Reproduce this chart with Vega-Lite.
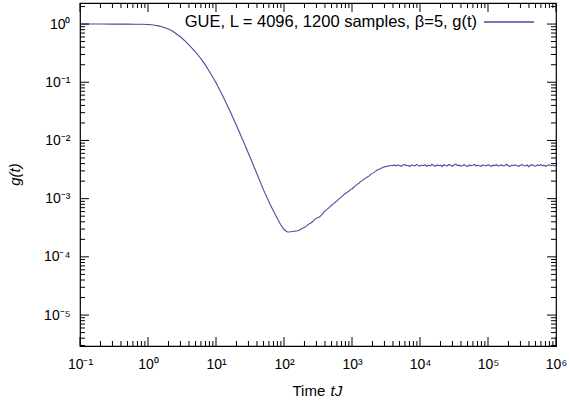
{
  "$schema": "https://vega.github.io/schema/vega-lite/v6.json",
  "width": 476,
  "height": 343,
  "autosize": {"type": "none"},
  "padding": {"left": 80, "top": 3, "right": 14, "bottom": 55},
  "background": "white",
  "config": {
    "font": "Liberation Sans",
    "view": {"stroke": "black", "strokeWidth": 1.2},
    "axis": {"grid": false, "domain": false, "ticks": false, "labelColor": "black", "labelFont": "Liberation Sans", "labelFontSize": 14, "titleFont": "Liberation Sans", "titleFontSize": 15, "titleFontWeight": "normal", "titleColor": "black", "labelFlush": false, "labelOverlap": false, "labelBound": false}
  },
  "datasets": {
    "xticks": [
      {"v": 0.1, "k": "major"}, {"v": 1, "k": "major"}, {"v": 10, "k": "major"}, {"v": 100, "k": "major"}, {"v": 1000, "k": "major"}, {"v": 10000, "k": "major"}, {"v": 100000, "k": "major"}, {"v": 1000000, "k": "major"},
      {"v": 0.2, "k": "minor"}, {"v": 0.3, "k": "minor"}, {"v": 0.4, "k": "minor"}, {"v": 0.5, "k": "minor"}, {"v": 0.6, "k": "minor"}, {"v": 0.7, "k": "minor"}, {"v": 0.8, "k": "minor"}, {"v": 0.9, "k": "minor"},
      {"v": 2, "k": "minor"}, {"v": 3, "k": "minor"}, {"v": 4, "k": "minor"}, {"v": 5, "k": "minor"}, {"v": 6, "k": "minor"}, {"v": 7, "k": "minor"}, {"v": 8, "k": "minor"}, {"v": 9, "k": "minor"},
      {"v": 20, "k": "minor"}, {"v": 30, "k": "minor"}, {"v": 40, "k": "minor"}, {"v": 50, "k": "minor"}, {"v": 60, "k": "minor"}, {"v": 70, "k": "minor"}, {"v": 80, "k": "minor"}, {"v": 90, "k": "minor"},
      {"v": 200, "k": "minor"}, {"v": 300, "k": "minor"}, {"v": 400, "k": "minor"}, {"v": 500, "k": "minor"}, {"v": 600, "k": "minor"}, {"v": 700, "k": "minor"}, {"v": 800, "k": "minor"}, {"v": 900, "k": "minor"},
      {"v": 2000, "k": "minor"}, {"v": 3000, "k": "minor"}, {"v": 4000, "k": "minor"}, {"v": 5000, "k": "minor"}, {"v": 6000, "k": "minor"}, {"v": 7000, "k": "minor"}, {"v": 8000, "k": "minor"}, {"v": 9000, "k": "minor"},
      {"v": 20000, "k": "minor"}, {"v": 30000, "k": "minor"}, {"v": 40000, "k": "minor"}, {"v": 50000, "k": "minor"}, {"v": 60000, "k": "minor"}, {"v": 70000, "k": "minor"}, {"v": 80000, "k": "minor"}, {"v": 90000, "k": "minor"},
      {"v": 200000, "k": "minor"}, {"v": 300000, "k": "minor"}, {"v": 400000, "k": "minor"}, {"v": 500000, "k": "minor"}, {"v": 600000, "k": "minor"}, {"v": 700000, "k": "minor"}, {"v": 800000, "k": "minor"}, {"v": 900000, "k": "minor"}
    ],
    "yticks": [
      {"v": 0.00001, "k": "major"}, {"v": 0.0001, "k": "major"}, {"v": 0.001, "k": "major"}, {"v": 0.01, "k": "major"}, {"v": 0.1, "k": "major"}, {"v": 1, "k": "major"},
      {"v": 0.000003, "k": "minor"}, {"v": 0.000004, "k": "minor"}, {"v": 0.000005, "k": "minor"}, {"v": 0.000006, "k": "minor"}, {"v": 0.000007, "k": "minor"}, {"v": 0.000008, "k": "minor"}, {"v": 0.000009, "k": "minor"},
      {"v": 0.00002, "k": "minor"}, {"v": 0.00003, "k": "minor"}, {"v": 0.00004, "k": "minor"}, {"v": 0.00005, "k": "minor"}, {"v": 0.00006, "k": "minor"}, {"v": 0.00007, "k": "minor"}, {"v": 0.00008, "k": "minor"}, {"v": 0.00009, "k": "minor"},
      {"v": 0.0002, "k": "minor"}, {"v": 0.0003, "k": "minor"}, {"v": 0.0004, "k": "minor"}, {"v": 0.0005, "k": "minor"}, {"v": 0.0006, "k": "minor"}, {"v": 0.0007, "k": "minor"}, {"v": 0.0008, "k": "minor"}, {"v": 0.0009, "k": "minor"},
      {"v": 0.002, "k": "minor"}, {"v": 0.003, "k": "minor"}, {"v": 0.004, "k": "minor"}, {"v": 0.005, "k": "minor"}, {"v": 0.006, "k": "minor"}, {"v": 0.007, "k": "minor"}, {"v": 0.008, "k": "minor"}, {"v": 0.009, "k": "minor"},
      {"v": 0.02, "k": "minor"}, {"v": 0.03, "k": "minor"}, {"v": 0.04, "k": "minor"}, {"v": 0.05, "k": "minor"}, {"v": 0.06, "k": "minor"}, {"v": 0.07, "k": "minor"}, {"v": 0.08, "k": "minor"}, {"v": 0.09, "k": "minor"},
      {"v": 0.2, "k": "minor"}, {"v": 0.3, "k": "minor"}, {"v": 0.4, "k": "minor"}, {"v": 0.5, "k": "minor"}, {"v": 0.6, "k": "minor"}, {"v": 0.7, "k": "minor"}, {"v": 0.8, "k": "minor"}, {"v": 0.9, "k": "minor"}, {"v": 2, "k": "minor"}
    ],
    "curve": [
      {"t": 0.1, "g": 1.0}, {"t": 0.2, "g": 1.0}, {"t": 0.316, "g": 0.999}, {"t": 0.5, "g": 0.997}, {"t": 0.631, "g": 0.995}, {"t": 0.8, "g": 0.99},
      {"t": 1.0, "g": 0.98}, {"t": 1.122, "g": 0.97}, {"t": 1.259, "g": 0.955}, {"t": 1.413, "g": 0.93}, {"t": 1.585, "g": 0.9}, {"t": 1.778, "g": 0.862},
      {"t": 1.995, "g": 0.82}, {"t": 2.239, "g": 0.765}, {"t": 2.512, "g": 0.7}, {"t": 2.818, "g": 0.635}, {"t": 3.162, "g": 0.57}, {"t": 3.548, "g": 0.505},
      {"t": 3.981, "g": 0.44}, {"t": 4.467, "g": 0.383}, {"t": 5.012, "g": 0.33}, {"t": 5.623, "g": 0.28}, {"t": 6.31, "g": 0.235}, {"t": 7.079, "g": 0.193},
      {"t": 7.943, "g": 0.155}, {"t": 8.913, "g": 0.124}, {"t": 10, "g": 0.098}, {"t": 12.59, "g": 0.058}, {"t": 15.85, "g": 0.033}, {"t": 19.95, "g": 0.0182},
      {"t": 25.12, "g": 0.0098}, {"t": 31.62, "g": 0.0052}, {"t": 39.81, "g": 0.0027}, {"t": 50.12, "g": 0.0014}, {"t": 63.1, "g": 0.00078}, {"t": 79.43, "g": 0.00046},
      {"t": 89.1, "g": 0.00036}, {"t": 100, "g": 0.000295}, {"t": 112.2, "g": 0.000268}, {"t": 125.9, "g": 0.00027}, {"t": 141.3, "g": 0.000275},
      {"t": 158.5, "g": 0.00028}, {"t": 167.9, "g": 0.000287}, {"t": 177.8, "g": 0.0003}, {"t": 188.4, "g": 0.000312}, {"t": 199.5, "g": 0.00032},
      {"t": 211.3, "g": 0.000334}, {"t": 223.9, "g": 0.000355}, {"t": 237.1, "g": 0.000372}, {"t": 251.2, "g": 0.000385}, {"t": 266.1, "g": 0.000405},
      {"t": 281.8, "g": 0.00044}, {"t": 298.5, "g": 0.000462}, {"t": 316.2, "g": 0.00047}, {"t": 335, "g": 0.000488}, {"t": 354.8, "g": 0.00052},
      {"t": 375.8, "g": 0.000565}, {"t": 398.1, "g": 0.00061}, {"t": 421.7, "g": 0.000642}, {"t": 446.7, "g": 0.00068}, {"t": 473.2, "g": 0.000722},
      {"t": 501.2, "g": 0.00077}, {"t": 530.9, "g": 0.000815}, {"t": 562.3, "g": 0.00086}, {"t": 595.7, "g": 0.000905}, {"t": 631, "g": 0.00097},
      {"t": 668.3, "g": 0.00102}, {"t": 707.9, "g": 0.00108}, {"t": 749.9, "g": 0.00115}, {"t": 794.3, "g": 0.00123}, {"t": 841.4, "g": 0.00127},
      {"t": 891.3, "g": 0.00134}, {"t": 944.1, "g": 0.00143}, {"t": 1000, "g": 0.00147}, {"t": 1059, "g": 0.00157}, {"t": 1122, "g": 0.00166},
      {"t": 1189, "g": 0.00176}, {"t": 1259, "g": 0.00184}, {"t": 1334, "g": 0.00196}, {"t": 1413, "g": 0.00204}, {"t": 1496, "g": 0.00216},
      {"t": 1585, "g": 0.00225}, {"t": 1679, "g": 0.00235}, {"t": 1778, "g": 0.00244}, {"t": 1884, "g": 0.00261}, {"t": 1995, "g": 0.00272},
      {"t": 2113, "g": 0.00283}, {"t": 2239, "g": 0.00297}, {"t": 2371, "g": 0.00314}, {"t": 2512, "g": 0.0032}, {"t": 2661, "g": 0.0033},
      {"t": 2818, "g": 0.00342}, {"t": 2985, "g": 0.00352}, {"t": 3162, "g": 0.00358}, {"t": 3350, "g": 0.00362}, {"t": 3548, "g": 0.00368},
      {"t": 3758, "g": 0.00371}, {"t": 3981, "g": 0.00372},
      {"t": 4217, "g": 0.00376}, {"t": 4467, "g": 0.00366}, {"t": 4732, "g": 0.00382}, {"t": 5012, "g": 0.0037}, {"t": 5309, "g": 0.0036},
      {"t": 5623, "g": 0.00378}, {"t": 5957, "g": 0.00386}, {"t": 6310, "g": 0.00368}, {"t": 6683, "g": 0.00374}, {"t": 7079, "g": 0.00356},
      {"t": 7499, "g": 0.0038}, {"t": 7943, "g": 0.00372}, {"t": 8414, "g": 0.00364}, {"t": 8913, "g": 0.00388}, {"t": 9441, "g": 0.0037},
      {"t": 10000, "g": 0.00362}, {"t": 10600, "g": 0.00378}, {"t": 11200, "g": 0.00368}, {"t": 11900, "g": 0.00384}, {"t": 12600, "g": 0.00358},
      {"t": 13300, "g": 0.00374}, {"t": 14100, "g": 0.00366}, {"t": 15000, "g": 0.0039}, {"t": 15800, "g": 0.00372}, {"t": 16800, "g": 0.0036},
      {"t": 17800, "g": 0.0038}, {"t": 18800, "g": 0.00368}, {"t": 20000, "g": 0.00376}, {"t": 21100, "g": 0.00354}, {"t": 22400, "g": 0.00382},
      {"t": 23700, "g": 0.0037}, {"t": 25100, "g": 0.00364}, {"t": 26600, "g": 0.00386}, {"t": 28200, "g": 0.00374}, {"t": 29900, "g": 0.0036},
      {"t": 31600, "g": 0.00378}, {"t": 33500, "g": 0.00392}, {"t": 35500, "g": 0.00368}, {"t": 37600, "g": 0.00376}, {"t": 39800, "g": 0.00362},
      {"t": 42200, "g": 0.00372}, {"t": 44700, "g": 0.00384}, {"t": 47300, "g": 0.00366}, {"t": 50100, "g": 0.00356}, {"t": 53100, "g": 0.0038},
      {"t": 56200, "g": 0.0037}, {"t": 59600, "g": 0.00374}, {"t": 63100, "g": 0.00388}, {"t": 66800, "g": 0.00364}, {"t": 70800, "g": 0.00378},
      {"t": 75000, "g": 0.00368}, {"t": 79400, "g": 0.0036}, {"t": 84100, "g": 0.00382}, {"t": 89100, "g": 0.00372}, {"t": 94400, "g": 0.00366},
      {"t": 100000, "g": 0.00384}, {"t": 106000, "g": 0.0037}, {"t": 112000, "g": 0.00358}, {"t": 119000, "g": 0.00376}, {"t": 126000, "g": 0.00368},
      {"t": 133000, "g": 0.00386}, {"t": 141000, "g": 0.00362}, {"t": 150000, "g": 0.00374}, {"t": 158000, "g": 0.0038}, {"t": 168000, "g": 0.00364},
      {"t": 178000, "g": 0.00372}, {"t": 188000, "g": 0.0039}, {"t": 200000, "g": 0.00366}, {"t": 211000, "g": 0.00356}, {"t": 224000, "g": 0.00378},
      {"t": 237000, "g": 0.0037}, {"t": 251000, "g": 0.00382}, {"t": 266000, "g": 0.00368}, {"t": 282000, "g": 0.0036}, {"t": 299000, "g": 0.00376},
      {"t": 316000, "g": 0.00386}, {"t": 335000, "g": 0.00372}, {"t": 355000, "g": 0.00364}, {"t": 376000, "g": 0.00378}, {"t": 398000, "g": 0.00354},
      {"t": 422000, "g": 0.00374}, {"t": 447000, "g": 0.00384}, {"t": 473000, "g": 0.00368}, {"t": 501000, "g": 0.00362}, {"t": 531000, "g": 0.0038},
      {"t": 562000, "g": 0.0037}, {"t": 596000, "g": 0.00388}, {"t": 631000, "g": 0.00366}, {"t": 668000, "g": 0.00376}, {"t": 708000, "g": 0.0036},
      {"t": 750000, "g": 0.00372}, {"t": 794000, "g": 0.00382}, {"t": 841000, "g": 0.00368}, {"t": 891000, "g": 0.00378}, {"t": 944000, "g": 0.00364},
      {"t": 1000000, "g": 0.00374}
    ]
  },
  "layer": [
    {
      "data": {"name": "curve"},
      "mark": {"type": "line", "strokeWidth": 1.1, "clip": true},
      "encoding": {
        "x": {
          "field": "t", "type": "quantitative",
          "scale": {"type": "log", "domain": [0.1, 1000000], "nice": false},
          "axis": {
            "orient": "bottom",
            "values": [0.1, 1, 10, 100, 1000, 10000, 100000, 1000000],
            "labelExpr": "'10' + ['⁻¹','⁰','¹','²','³','⁴','⁵','⁶'][round(log(datum.value)/LN10)+1]",
            "labelPadding": 11,
            "title": "Time",
            "titleX": 212, "titleY": 49, "titleAlign": "left", "titleBaseline": "alphabetic", "titleAnchor": null
          }
        },
        "y": {
          "field": "g", "type": "quantitative",
          "scale": {"type": "log", "domain": [0.00000294, 2.3], "nice": false},
          "axis": {
            "orient": "left",
            "values": [0.00001, 0.0001, 0.001, 0.01, 0.1, 1],
            "labelExpr": "'10' + ['⁻⁵','⁻⁴','⁻³','⁻²','⁻¹','⁰'][round(log(datum.value)/LN10)+5]",
            "labelPadding": 10,
            "title": "g(t)",
            "titleFontStyle": "italic",
            "titleAngle": -90, "titleX": -61, "titleY": 171, "titleAlign": "center", "titleBaseline": "alphabetic", "titleAnchor": null
          }
        },
        "color": {
          "datum": "GUE, L = 4096, 1200 samples, β=5, g(t)",
          "type": "nominal",
          "scale": {"range": ["#4a4a9e"]},
          "legend": {
            "orient": "none", "legendX": 403, "legendY": -7, "padding": 0,
            "title": null, "symbolType": "stroke", "symbolSize": 2500, "symbolStrokeWidth": 1.5,
            "symbolStrokeColor": "#8c8cc0",
            "labelAlign": "right", "labelOffset": -58, "labelFont": "Liberation Sans", "labelFontSize": 16.5, "labelColor": "black", "labelLimit": 0
          }
        }
      }
    },
    {
      "data": {"name": "curve"},
      "mark": {"type": "line", "opacity": 0},
      "encoding": {
        "x": {
          "field": "t", "type": "quantitative",
          "axis": {
            "orient": "top", "labels": false,
            "title": "tJ", "titleFontStyle": "italic",
            "titleX": 250, "titleY": 392, "titleAlign": "left", "titleBaseline": "alphabetic", "titleAnchor": null
          }
        },
        "y": {"field": "g", "type": "quantitative", "axis": null}
      }
    },
    {
      "data": {"name": "xticks"},
      "mark": {"type": "point", "shape": "M0,0V-1", "filled": false, "stroke": "black", "strokeWidth": 1, "opacity": 1},
      "encoding": {
        "x": {"field": "v", "type": "quantitative", "axis": null},
        "y": {"datum": 0.00000294, "type": "quantitative", "axis": null},
        "size": {"field": "k", "type": "nominal", "scale": {"domain": ["major", "minor"], "range": [324, 100]}, "legend": null}
      }
    },
    {
      "data": {"name": "xticks"},
      "mark": {"type": "point", "shape": "M0,0V1", "filled": false, "stroke": "black", "strokeWidth": 1, "opacity": 1},
      "encoding": {
        "x": {"field": "v", "type": "quantitative", "axis": null},
        "y": {"datum": 2.3, "type": "quantitative", "axis": null},
        "size": {"field": "k", "type": "nominal", "scale": {"domain": ["major", "minor"], "range": [324, 100]}, "legend": null}
      }
    },
    {
      "data": {"name": "yticks"},
      "mark": {"type": "point", "shape": "M0,0H1", "filled": false, "stroke": "black", "strokeWidth": 1, "opacity": 1},
      "encoding": {
        "y": {"field": "v", "type": "quantitative", "axis": null},
        "x": {"datum": 0.1, "type": "quantitative", "axis": null},
        "size": {"field": "k", "type": "nominal", "scale": {"domain": ["major", "minor"], "range": [324, 100]}, "legend": null}
      }
    },
    {
      "data": {"name": "yticks"},
      "mark": {"type": "point", "shape": "M0,0H-1", "filled": false, "stroke": "black", "strokeWidth": 1, "opacity": 1},
      "encoding": {
        "y": {"field": "v", "type": "quantitative", "axis": null},
        "x": {"datum": 1000000, "type": "quantitative", "axis": null},
        "size": {"field": "k", "type": "nominal", "scale": {"domain": ["major", "minor"], "range": [324, 100]}, "legend": null}
      }
    }
  ],
  "resolve": {"axis": {"x": "independent", "y": "independent"}}
}
